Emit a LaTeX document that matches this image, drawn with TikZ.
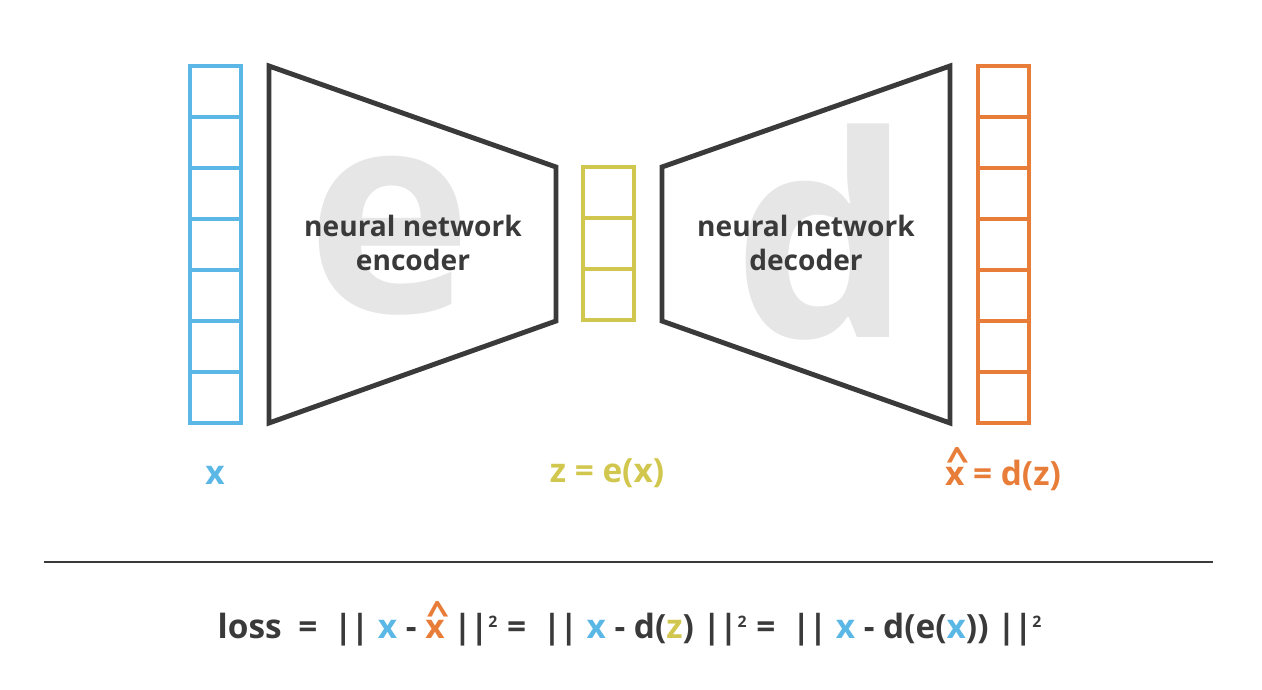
\documentclass[tikz,border=0pt]{standalone}
\usepackage{amsmath}
\usepackage{fontspec}
\setmainfont{Open Sans}
\usetikzlibrary{positioning,calc}
\definecolor{inblue}{HTML}{5BB8E6}
\definecolor{latyellow}{HTML}{D2C74E}
\definecolor{outorange}{HTML}{E87D3A}
\definecolor{netgray}{HTML}{3A3A3A}
\definecolor{lettergray}{HTML}{E6E6E6}
\tikzset{
  cell/.style={draw,line width=2.6pt,minimum width=1.02cm,minimum height=1.02cm,inner sep=0pt},
  net/.style={draw=netgray,line width=2.8pt,line join=miter},
  bigletter/.style={text=lettergray,font=\fontsize{160}{160}\selectfont\bfseries},
  netlabel/.style={text=netgray,font=\fontsize{16}{19}\selectfont\bfseries,align=center},
  varlabel/.style={font=\fontsize{19}{22}\selectfont\bfseries},
  losslabel/.style={font=\fontsize{19}{22}\selectfont\bfseries},
}
\newcommand{\xhat}{\rlap{\raisebox{0.4em}{\hspace{0.05em}\scalebox{1.2}[1.0]{\textasciicircum}}}x}
\newcommand{\sqr}{$^{\text{\small 2}}$}
\newcommand{\nrm}{|\kern-0.05em|}
\begin{document}
\begin{tikzpicture}[x=0.02cm,y=-0.02cm]
                \useasboundingbox (0,0) rectangle (1262,690);

                % Gray letters
                \node[bigletter] (ebig) at (390,236) {e};
                \node[bigletter] (dbig) at (822,232) {d};

                % Input column
                \foreach \i in {0,...,6}
                  \node[cell,draw=inblue] (in\i) at (215.5,91.5+51*\i) {};

                % Encoder and decoder
                \draw[net] (269,66) -- (556,167) -- (556,321) -- (269,423) -- cycle;
                \draw[net] (662,167) -- (950,66) -- (950,423) -- (662,321) -- cycle;
                \node[netlabel] (enc) at (413,243) {neural network\\encoder};
                \node[netlabel] (dec) at (806,243) {neural network\\decoder};

                % Latent column
                \foreach \i in {0,...,2}
                  \node[cell,draw=latyellow] (z\i) at (608.5,192.5+51*\i) {};

                % Output column
                \foreach \i in {0,...,6}
                  \node[cell,draw=outorange] (out\i) at (1003.5,91.5+51*\i) {};

                % Variable labels
                \node[varlabel,text=inblue] (xlab) at (215,475) {x};
                \node[varlabel,text=latyellow] (zlab) at (607,473) {z = e(x)};
                \node[varlabel,text=outorange] (xhlab) at (1003,469) {\xhat{} = d(z)};

                % Separator
                \coordinate (sepl) at (44,562);
                \coordinate (sepr) at (1213,562);
                \draw[netgray,line width=1.5pt] (sepl) -- (sepr);

                % Loss
                \node[losslabel,text=netgray] (loss) at (630,624) {loss\enspace =\enspace
                  \nrm{} \textcolor{inblue}{x} - \textcolor{outorange}{\xhat} \nrm\sqr{} =\enspace
                  \nrm{} \textcolor{inblue}{x} - d(\textcolor{latyellow}{z}) \nrm\sqr{} =\enspace
                  \nrm{} \textcolor{inblue}{x} - d(e(\textcolor{inblue}{x})) \nrm\sqr};
\end{tikzpicture}
\end{document}
